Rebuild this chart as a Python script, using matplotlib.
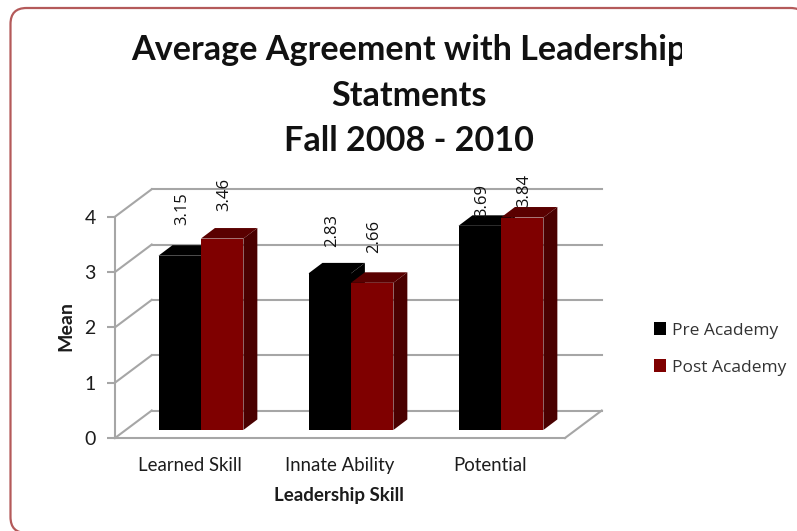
import matplotlib.pyplot as plt
from matplotlib.patches import FancyBboxPatch, Polygon
from matplotlib.transforms import Bbox

categories = ["Learned Skill", "Innate Ability", "Potential"]
pre_academy = [3.15, 2.83, 3.69]
post_academy = [3.46, 2.66, 3.84]
y_ticks = [0, 1, 2, 3, 4]
title = "Average Agreement with Leadership\nStatments\nFall 2008 - 2010"

W, H = 797, 531
PRE_COLORS = ("#000000", "#000000", "#000000")
POST_COLORS = ("#7f0000", "#5a0000", "#4a0000")
GRID = "#a6a6a6"
TEXT = "#1c1c1c"

# глубина "псевдо-3D" в единицах данных
WALL_DX, WALL_DY = 0.245, 0.497
BAR_DX, BAR_DY = 0.093, 0.19
FRONT_DX, FRONT_DY = 0.073, 0.145
BAR_W = 0.283

plt.rcParams["font.family"] = ["Lato", "DejaVu Sans"]

fig = plt.figure(figsize=(W / 100, H / 100), dpi=100)
ax = fig.add_axes([115 / W, 1 - 438 / H, 450 / W, 221.3 / H])
ax.set_xlim(-0.5, 2.5)
ax.set_ylim(0, 4)
ax.patch.set_visible(False)

# рамка
frame = FancyBboxPatch((10.5, H - 533), 796, 525,
                       boxstyle="round,pad=0,rounding_size=16",
                       transform=None, facecolor="white",
                       edgecolor="#b45a5a", linewidth=1.6, zorder=-5)
fig.add_artist(frame)

# стенки и сетка
for v in y_ticks:
    ax.plot([-0.5, -0.5 + WALL_DX], [v, v + WALL_DY], color=GRID, lw=1.5, clip_on=False, zorder=1)
    ax.plot([-0.5 + WALL_DX, 2.5 + WALL_DX], [v + WALL_DY, v + WALL_DY], color=GRID, lw=1.5, clip_on=False, zorder=1)
ax.plot([2.5, 2.5 + WALL_DX], [0, WALL_DY], color=GRID, lw=1.5, clip_on=False, zorder=1)


def draw_bars(centers, values, colors, label, z):
    front, top, side = colors
    bars = ax.bar(centers, values, BAR_W, bottom=FRONT_DY, color=front, label=label, zorder=z, clip_on=False)
    for c, v in zip(centers, values):
        x0, x1 = c - BAR_W / 2, c + BAR_W / 2
        y0, y1 = FRONT_DY, FRONT_DY + v
        ax.add_patch(Polygon([(x0, y1), (x1, y1), (x1 + BAR_DX, y1 + BAR_DY), (x0 + BAR_DX, y1 + BAR_DY)],
                             facecolor=top, edgecolor="none", zorder=z, clip_on=False))
        ax.add_patch(Polygon([(x1, y0), (x1 + BAR_DX, y0 + BAR_DY), (x1 + BAR_DX, y1 + BAR_DY), (x1, y1)],
                             facecolor=side, edgecolor="none", zorder=z, clip_on=False))
    return bars


idx = range(len(categories))
pre_x = [i + FRONT_DX - BAR_W / 2 for i in idx]
post_x = [i + FRONT_DX + BAR_W / 2 for i in idx]
pre_bars = draw_bars(pre_x, pre_academy, PRE_COLORS, "Pre Academy", 3)
post_bars = draw_bars(post_x, post_academy, POST_COLORS, "Post Academy", 4)

# подписи значений, сдвиг в пунктах подобран по картинке
pre_pad = [22, 19, 6.5]
post_pad = [19.5, 21.5, 7.5]
for xs, vals, pads in ((pre_x, pre_academy, pre_pad), (post_x, post_academy, post_pad)):
    for x, v, p in zip(xs, vals, pads):
        ax.annotate(f"{v:.2f}", (x, v + FRONT_DY), xytext=(1.5, p), textcoords="offset points",
                    rotation=90, ha="center", va="bottom", fontsize=12, color="#111111",
                    family=["Open Sans", "DejaVu Sans"], zorder=6)

for name in ("top", "right", "bottom"):
    ax.spines[name].set_visible(False)
ax.spines["left"].set_color(GRID)
ax.spines["left"].set_linewidth(1.5)
ax.set_yticks(y_ticks)
ax.set_xticks(list(idx), categories)
ax.tick_params(axis="y", length=6, width=1.5, color=GRID, labelsize=14, labelcolor=TEXT, pad=8)
ax.tick_params(axis="x", length=0, labelsize=13.4, labelcolor=TEXT, pad=14)
ax.axhline(0, color=GRID, lw=1.5, zorder=1, clip_on=False)

fig.text(339 / W, 1 - 496 / H, "Leadership Skill", fontsize=13.5, fontweight="bold", color=TEXT, ha="center", va="center")
fig.text(66 / W, 1 - 326 / H, "Mean", fontsize=14, fontweight="bold", color=TEXT, rotation=90, ha="center", va="center")

t = fig.text(409 / W, 1 - 34 / H, title, fontsize=24.6, fontweight="bold", color="#111111",
             ha="center", va="top", linespacing=1.52)
t.set_clip_box(Bbox([[0, 0], [682, H]]))
t.set_clip_on(True)

ax.legend(handles=[pre_bars, post_bars], loc="center left", bbox_to_anchor=(654 / W, 1 - 349 / H),
          bbox_transform=fig.transFigure, frameon=False, handlelength=0.7, handleheight=0.7,
          handletextpad=0.35, labelspacing=1.2, borderpad=0, borderaxespad=0,
          prop={"family": "Open Sans", "size": 12.5}, labelcolor="#333333")

fig.savefig("out.png", dpi=100)
